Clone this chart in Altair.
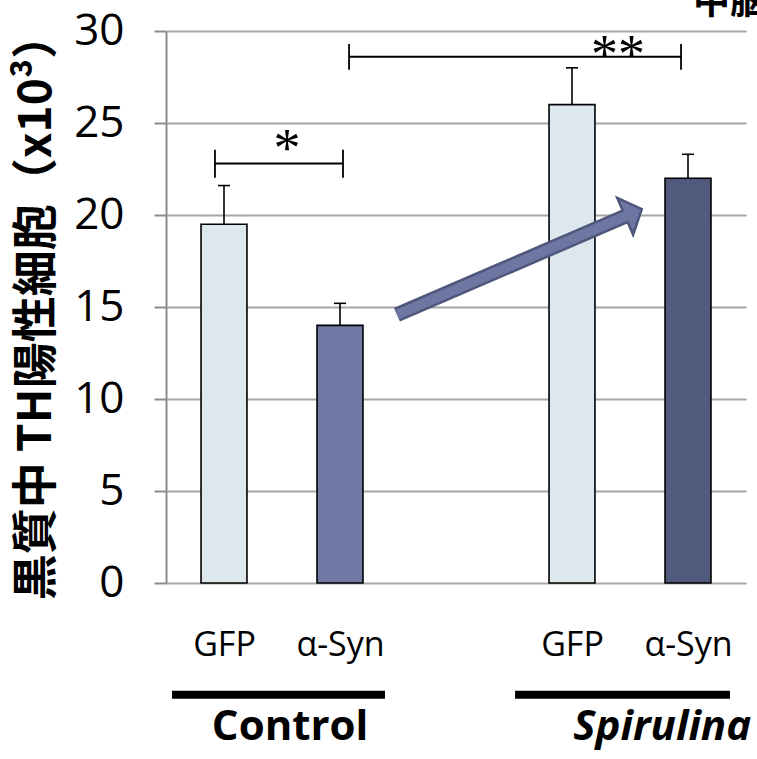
import altair as alt
import pandas as pd

# ---- data ----
positions = [1, 2, 4, 5]
conditions = ["GFP", "α-Syn", "GFP", "α-Syn"]
groups = ["Control", "Control", "Spirulina", "Spirulina"]
means = [19.5, 14.0, 26.0, 22.0]
errors = [2.1, 1.2, 2.0, 1.3]
fills = ["#dde8ee", "#6f79a3", "#dde8ee", "#525b7d"]

y_ticks = [0, 5, 10, 15, 20, 25, 30]

# significance brackets
sig_from = [0.922, 2.078]
sig_to = [2.026, 4.94]
sig_level = [22.8, 28.6]
sig_tick_lo = [22.03, 27.9]
sig_tick_hi = [23.55, 29.3]
sig_marks = ["*", "**"]
sig_mark_x = [1.543, 4.397]
sig_mark_y = [22.65, 27.76]

# group underlines / labels (below the axis)
group_names = ["Control", "Spirulina"]
group_from = [0.552, 3.509]
group_to = [2.388, 5.362]
group_line_y = [-6.07, -6.07]
group_label_x = [1.57, 4.01]
group_label_y = [-8.52, -8.52]

# arrow annotation
arrow_tail = (2.491, 14.58)
arrow_base = (4.457, 19.93)
arrow_inner_end = (4.481, 19.99)
arrow_head = (4.53, 20.12)

corner_title = "中脳"
corner_pos = (5.043, 30.9)

y_title = "黒質中 TH陽性細胞（x10³）"

BAR_HALF = 0.198
CAP_HALF = 0.052

df = pd.DataFrame({
    "pos": positions, "cond": conditions, "group": groups,
    "mean": means, "err": errors, "fill": fills,
})
df["x0"] = df["pos"] - BAR_HALF
df["x1"] = df["pos"] + BAR_HALF
df["top"] = df["mean"] + df["err"]
df["c0"] = df["pos"] - CAP_HALF
df["c1"] = df["pos"] + CAP_HALF

sig = pd.DataFrame({
    "x1": sig_from, "x2": sig_to, "y": sig_level, "lo": sig_tick_lo,
    "hi": sig_tick_hi, "mark": sig_marks, "mx": sig_mark_x, "my": sig_mark_y,
})
grp = pd.DataFrame({
    "name": group_names, "x1": group_from, "x2": group_to, "ly": group_line_y,
    "tx": group_label_x, "ty": group_label_y,
})

label_expr = " : ".join(
    f"datum.value == {p} ? '{c}'" for p, c in zip(positions, conditions)
) + " : ''"

xscale = alt.Scale(domain=[0.5, 5.5], nice=False, zero=False)
yscale = alt.Scale(domain=[0, 30], nice=False)

x_axis = alt.Axis(
    values=positions, labelExpr=label_expr, title=None, grid=False,
    domain=False, ticks=False, labelFont="Open Sans", labelFontSize=34,
    labelColor="black", labelPadding=45, labelAngle=0,
)
y_axis = alt.Axis(
    values=y_ticks, title=y_title, grid=True, gridColor="#a6a6a6",
    gridWidth=2, domainColor="#8c8c8c", domainWidth=2, tickColor="#8c8c8c",
    tickWidth=2, tickSize=12, labelFont="Open Sans", labelFontSize=44,
    labelColor="black", labelPadding=30,
    titleFont="Noto Sans CJK JP", titleFontSize=46, titleFontWeight="bold",
    titleColor="black", titleAngle=270, titleAlign="center",
    titleBaseline="middle", titleX=-130, titleY=275,
)

base = alt.Chart(df)

bars = base.mark_bar(stroke="black", strokeWidth=1.6).encode(
    x=alt.X("x0:Q", scale=xscale, axis=x_axis),
    x2="x1:Q",
    y=alt.Y("mean:Q", scale=yscale, axis=y_axis),
    y2=alt.datum(0),
    color=alt.Color("fill:N", scale=None),
)
err_line = base.mark_rule(color="black", strokeWidth=1.6).encode(
    x="pos:Q", y="mean:Q", y2="top:Q")
err_cap = base.mark_rule(color="black", strokeWidth=1.6).encode(
    x="c0:Q", x2="c1:Q", y="top:Q")

sbase = alt.Chart(sig)
br_h = sbase.mark_rule(color="black", strokeWidth=1.8).encode(
    x="x1:Q", x2="x2:Q", y="y:Q")
br_l = sbase.mark_rule(color="black", strokeWidth=1.8).encode(
    x="x1:Q", y="lo:Q", y2="hi:Q")
br_r = sbase.mark_rule(color="black", strokeWidth=1.8).encode(
    x="x2:Q", y="lo:Q", y2="hi:Q")
stars = sbase.mark_text(font="Liberation Serif", fontSize=54,
                        baseline="alphabetic", align="center",
                        color="black").encode(
    x="mx:Q", y="my:Q", text="mark:N")

arrow_df = pd.DataFrame({
    "x": [arrow_tail[0]], "y": [arrow_tail[1]],
    "x2": [arrow_base[0]], "y2": [arrow_base[1]],
    "xi": [arrow_inner_end[0]], "yi": [arrow_inner_end[1]],
    "hx": [arrow_head[0]], "hy": [arrow_head[1]],
})
abase = alt.Chart(arrow_df)
shaft_outer = abase.mark_rule(color="#4e5679", strokeWidth=15,
                              strokeCap="butt").encode(
    x="x:Q", y="y:Q", x2="x2:Q", y2="y2:Q")
head = abase.mark_point(
    shape="M-0.45,-1L0.45,0L-0.45,1Z", size=1600, angle=336.7,
    filled=True, fill="#6e77a1", stroke="#4e5679", strokeWidth=2.5,
    opacity=1).encode(x="hx:Q", y="hy:Q")
shaft_inner = abase.mark_rule(color="#6e77a1", strokeWidth=10,
                              strokeCap="butt").encode(
    x="x:Q", y="y:Q", x2="xi:Q", y2="yi:Q")

gbase = alt.Chart(grp)
g_lines = gbase.mark_rule(color="black", strokeWidth=8).encode(
    x="x1:Q", x2="x2:Q", y="ly:Q")
g_ctrl = gbase.transform_filter(alt.datum.name == "Control").mark_text(
    font="Open Sans", fontSize=42, fontWeight="bold", align="center",
    baseline="alphabetic", color="black").encode(
    x="tx:Q", y="ty:Q", text="name:N")
g_spir = gbase.transform_filter(alt.datum.name == "Spirulina").mark_text(
    font="Open Sans", fontSize=42, fontWeight="bold", fontStyle="italic",
    align="left", baseline="alphabetic", color="black").encode(
    x="tx:Q", y="ty:Q", text="name:N")

corner_df = pd.DataFrame({"t": [corner_title], "x": [corner_pos[0]],
                          "y": [corner_pos[1]]})
corner = alt.Chart(corner_df).mark_text(
    font="Noto Sans CJK JP", fontSize=37, fontWeight="bold", align="left",
    baseline="alphabetic", color="black").encode(
    x="x:Q", y="y:Q", text="t:N")

chart = alt.layer(
    bars, err_line, err_cap, shaft_outer, head, shaft_inner,
    br_h, br_l, br_r, stars, g_lines, g_ctrl, g_spir, corner,
).properties(
    width=580, height=552,
    autosize=alt.AutoSizeParams(type="none"),
    padding={"left": 166, "top": 31, "right": 11, "bottom": 176},
    background="white",
).configure_view(stroke=None)

chart.save("out.html", embed_options={"renderer": "svg", "actions": False})
